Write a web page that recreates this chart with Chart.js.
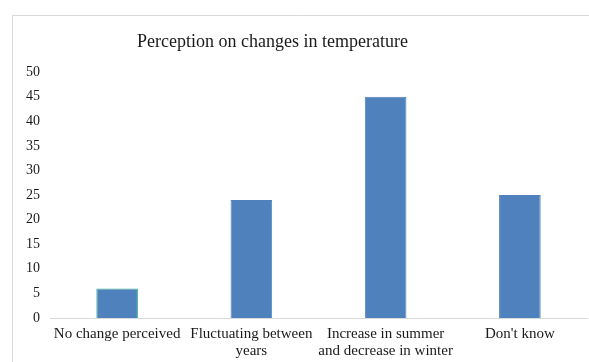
<!DOCTYPE html>
<html>
<head>
<meta charset="utf-8">
<script src="https://cdn.jsdelivr.net/npm/chart.js@4.4.1/dist/chart.umd.min.js"></script>
<style>
  html, body { margin: 0; padding: 0; background: #fff; }
  #wrap { position: relative; width: 589px; height: 362px; }
</style>
</head>
<body>
<div id="wrap"><canvas id="c" width="589" height="362"></canvas></div>
<script>
// Survey responses: perception of temperature change
const categories = [
  ["No change perceived"],
  ["Fluctuating between", "years"],
  ["Increase in summer", "and decrease in winter"],
  ["Don't know"]
];
const responses = [6, 24, 45, 25];
const yTicks = [0, 5, 10, 15, 20, 25, 30, 35, 40, 45, 50];

const barFill = "#4F81BD";
const barEdges = ["#3DAE9A", barFill, barFill, barFill];

// Thin light-grey frame along the top and left of the chart panel
const framePlugin = {
  id: "frame",
  beforeDraw(chart) {
    const ctx = chart.ctx;
    ctx.save();
    ctx.fillStyle = "#fff";
    ctx.fillRect(0, 0, chart.width, chart.height);
    ctx.strokeStyle = "#d9d9d9";
    ctx.lineWidth = 1;
    ctx.beginPath();
    ctx.moveTo(12.5, chart.height);
    ctx.lineTo(12.5, 15.5);
    ctx.lineTo(chart.width, 15.5);
    ctx.stroke();
    ctx.restore();
  }
};

// Centre the title over a slightly narrower span than the full canvas
const titleSpanPlugin = {
  id: "titleSpan",
  afterLayout(chart) {
    if (chart.titleBlock) {
      chart.titleBlock.right -= 42;
    }
  }
};

new Chart(document.getElementById("c"), {
  type: "bar",
  data: {
    labels: categories,
    datasets: [{
      data: responses,
      backgroundColor: barFill,
      borderColor: barEdges,
      borderWidth: 1,
      barPercentage: 0.5,
      categoryPercentage: 0.62
    }]
  },
  options: {
    responsive: false,
    animation: false,
    layout: { padding: { left: 0, right: 2, top: 0, bottom: 0 } },
    plugins: {
      legend: { display: false },
      tooltip: { enabled: false },
      title: {
        display: true,
        text: "Perception on changes in temperature",
        color: "#1a1a1a",
        font: { family: "'Liberation Serif', 'Times New Roman', serif", size: 18, weight: "normal" },
        padding: { top: 31, bottom: 19.5 }
      }
    },
    scales: {
      x: {
        grid: { display: false, drawTicks: false },
        border: { display: true, color: "#d9d9d9", width: 1 },
        ticks: {
          color: "#1a1a1a",
          padding: 7,
          maxRotation: 0,
          autoSkip: false,
          font: { family: "'Liberation Serif', 'Times New Roman', serif", size: 15, lineHeight: 1.15 }
        },
        afterFit(scale) { scale.height = 44; }
      },
      y: {
        min: 0,
        max: 50,
        afterBuildTicks(scale) { scale.ticks = yTicks.map(v => ({ value: v })); },
        grid: { display: false, drawTicks: false },
        border: { display: false },
        ticks: {
          color: "#1a1a1a",
          padding: 10,
          font: { family: "'Liberation Serif', 'Times New Roman', serif", size: 14 }
        },
        afterFit(scale) { scale.width = 50; }
      }
    }
  },
  plugins: [framePlugin, titleSpanPlugin]
});
</script>
</body>
</html>
